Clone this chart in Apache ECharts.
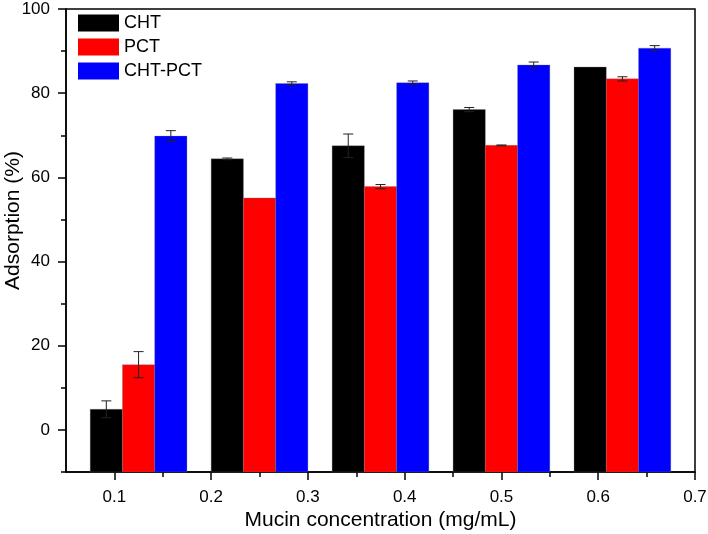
<!DOCTYPE html>
<html><head><meta charset="utf-8">
<script src="https://cdn.jsdelivr.net/npm/echarts@6/dist/echarts.min.js"></script>
<style>html,body{margin:0;padding:0;background:#fff}#c{width:708px;height:534px}</style>
</head><body><div id="c"></div>
<script>
const seriesNames = ['CHT', 'PCT', 'CHT-PCT'];
const groupX = [0.125, 0.25, 0.375, 0.5, 0.625];
const chtValues = [4.9, 64.4, 67.5, 76.1, 86.2];
const chtErrors = [2.0, 0.2, 2.8, 0.5, 0];
const pctValues = [15.5, 55.1, 57.8, 67.6, 83.4];
const pctErrors = [3.1, 0, 0.5, 0.1, 0.5];
const mixValues = [69.8, 82.3, 82.5, 86.7, 90.7];
const mixErrors = [1.3, 0.4, 0.4, 0.7, 0.6];
const xTickLabels = [0.1, 0.2, 0.3, 0.4, 0.5, 0.6, 0.7];
const xMinorTicks = [0.15, 0.25, 0.35, 0.45, 0.55, 0.65];
const yTickLabels = [0, 20, 40, 60, 80, 100];
const yMinorTicks = [-10, 10, 30, 50, 70, 90];

const X_MIN = 0.05, X_MAX = 0.7, Y_MIN = -10, Y_MAX = 100;
const colors = ['#000000', '#ff0000', '#0000ff'];
const allValues = [chtValues, pctValues, mixValues];
const allErrors = [chtErrors, pctErrors, mixErrors];
const GROUP_W = 0.1, BAR_W = GROUP_W / 3;

const chart = echarts.init(document.getElementById('c'), null, {renderer: 'canvas'});
const font = 'Liberation Sans, Arial, sans-serif';

function makeRender(si) {
  return function (params, api) {
    const x = api.value(0), y = api.value(1), e = api.value(2);
    const cx = x + (si - 1) * BAR_W;
    const tl = api.coord([cx - BAR_W / 2, y]);
    const br = api.coord([cx + BAR_W / 2, Y_MIN]);
    const children = [{
      type: 'rect',
      shape: {x: tl[0], y: tl[1], width: br[0] - tl[0], height: br[1] - tl[1]},
      style: {fill: colors[si], stroke: 'rgba(120,120,120,0.5)', lineWidth: 0.6}
    }];
    if (e > 0) {
      const c = api.coord([cx, y]);
      const top = api.coord([cx, y + e])[1];
      const bot = api.coord([cx, y - e])[1];
      const st = {stroke: '#222', lineWidth: 1};
      children.push({type: 'line', shape: {x1: c[0], y1: top, x2: c[0], y2: bot}, style: st});
      children.push({type: 'line', shape: {x1: c[0] - 5, y1: top, x2: c[0] + 5, y2: top}, style: st});
      children.push({type: 'line', shape: {x1: c[0] - 5, y1: bot, x2: c[0] + 5, y2: bot}, style: st});
    }
    return {type: 'group', children: children};
  };
}

const series = seriesNames.map((name, si) => ({
  name: name,
  type: 'custom',
  xAxisIndex: 0,
  yAxisIndex: 0,
  itemStyle: {color: colors[si]},
  encode: {x: 0, y: 1},
  renderItem: makeRender(si),
  clip: false,
  data: groupX.map((gx, i) => [gx, allValues[si][i], allErrors[si][i]])
}));

const axisLineStyle = {color: '#000', width: 1.5};

chart.setOption({
  animation: false,
  backgroundColor: '#fff',
  color: colors,
  textStyle: {fontFamily: font},
  grid: {left: 66, right: 13, top: 9, bottom: 62, show: true, borderColor: '#000', borderWidth: 1.5,
         containLabel: false, outerBoundsMode: 'none'},
  legend: {
    orient: 'vertical', left: 78, top: 14, padding: 0,
    itemWidth: 41, itemHeight: 17, itemGap: 6,
    textStyle: {fontSize: 18, color: '#000', fontFamily: font},
    data: seriesNames.map(n => ({name: n, icon: 'rect'}))
  },
  xAxis: [{
    type: 'value', min: X_MIN, max: X_MAX, position: 'bottom',
    name: 'Mucin concentration (mg/mL)', nameLocation: 'middle', nameGap: 38, nameMoveOverlap: false,
    nameTextStyle: {fontSize: 21, color: '#000', fontFamily: font},
    axisLine: {show: true, onZero: false, lineStyle: axisLineStyle},
    axisTick: {show: true, inside: false, length: 8, lineStyle: {color: '#000', width: 1.5}, customValues: xTickLabels},
    axisLabel: {show: true, fontSize: 17, color: '#000', margin: 17, customValues: xTickLabels, formatter: v => v.toFixed(1)},
    splitLine: {show: false}
  }, {
    type: 'value', min: X_MIN, max: X_MAX, position: 'bottom',
    axisLine: {show: false, onZero: false},
    axisTick: {show: true, length: 5, lineStyle: {color: '#000', width: 1.5}, customValues: xMinorTicks},
    axisLabel: {show: false},
    splitLine: {show: false}
  }],
  yAxis: [{
    type: 'value', min: Y_MIN, max: Y_MAX, position: 'left',
    name: 'Adsorption (%)', nameLocation: 'middle', nameGap: 42, nameMoveOverlap: false,
    nameTextStyle: {fontSize: 21, color: '#000', fontFamily: font, padding: [0, 0, 0, 40]},
    axisLine: {show: true, onZero: false, lineStyle: axisLineStyle},
    axisTick: {show: true, length: 8, lineStyle: {color: '#000', width: 1.5}, customValues: yTickLabels},
    axisLabel: {show: true, fontSize: 17, color: '#000', margin: 16, customValues: yTickLabels},
    splitLine: {show: false}
  }, {
    type: 'value', min: Y_MIN, max: Y_MAX, position: 'left',
    axisLine: {show: false, onZero: false},
    axisTick: {show: true, length: 5, lineStyle: {color: '#000', width: 1.5}, customValues: yMinorTicks},
    axisLabel: {show: false},
    splitLine: {show: false}
  }],
  series: series
});
</script>
</body></html>
